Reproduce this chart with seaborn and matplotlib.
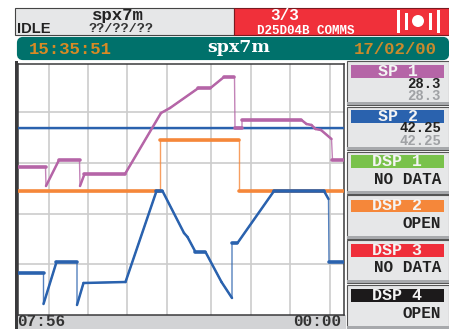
import matplotlib
matplotlib.use("Agg")
import matplotlib.pyplot as plt
from matplotlib.collections import LineCollection
from matplotlib.patches import Rectangle, FancyBboxPatch, Circle
import numpy as np
import pandas as pd
import seaborn as sns

# ---- data (position along the time axis, trace height) ----
sp1_x = [0,28,28.5,41.5,62,62.5,67,107.5,143.5,152.5,181,193,206.5,217,217.5,224.5,224.5,284,289,294,298,303.5,314,315,326]
sp1_y = [148,148,129,155,155,129,141,141,202,207,227,227,238,238,187,187,195,195,191,190,186,185,176,155,155]
sp2_x = [0,326]
sp2_y = [187,187]
dsp2_x = [0,143,143,222,222,326]
dsp2_y = [124,124,175,175,124,124]
trace_x = [0,26,26,39,59.5,59.5,66,108,139,145,166.5,170,178,188,204,214.5,214.5,220,256.5,306.5,311,311.5,326]
trace_y = [42,42,11,53,53,10,32,33,124,124,82,78,63,63,33,17,72,72,124,124,116,53,53]
grid_x = [31,71,110,150,194,234,273,312.5]
grid_y = [51,101.5,152,203]

channels = ["SP 1","SP 2","DSP 1","DSP 2","DSP 3","DSP 4"]
channel_colors = ["#B565A7","#2A62AE","#79C24B","#F5873A","#EF2E3A","#1C1A1B"]
channel_tops = [61,107,152,195,240,285]
channel_bottoms = [105,150,194,239,283,329]
head_tops = [65,110,155,200,244,289]
head_bottoms = [78,123,168,212,257,302]
channel_main = ["28.3","42.25","NO DATA","OPEN","NO DATA","OPEN"]
channel_sub = ["28.3","42.25","","","",""]

sns.set_style("white")
plt.rcParams["font.family"] = ["Liberation Mono", "DejaVu Sans Mono"]
W, H = 449, 329
fig = plt.figure(figsize=(W/100, H/100), dpi=100, facecolor="white")

# chrome layer in a 449x329 frame
bg = fig.add_axes([0,0,1,1], zorder=0)
bg.set_xlim(0,W); bg.set_ylim(H,0); bg.axis("off")
GREY = "#E6E7E8"
def box(x0,y0,x1,y1,fc,ec="none",lw=0,z=1):
    bg.add_patch(Rectangle((x0,y0),x1-x0,y1-y0,fc=fc,ec=ec,lw=lw,zorder=z))

box(15,8,234,35,GREY,ec="#444444",lw=0.8)
box(234,8,449,35,"#F0303A",ec="#7a1a20",lw=0.8)
bg.add_patch(FancyBboxPatch((19,39),428,19,boxstyle="round,pad=0,rounding_size=4",
                            fc="#00716B",ec="#00716B",lw=3,zorder=1))
box(16,315,346,329,"#D2D3D5")
box(15,61,17.5,329,"#3A3A3C",z=2)

bg.text(118,15.5,"spx7m",ha="center",va="center",fontsize=12.5,fontweight="bold",color="#222222")
bg.text(121,29,"??/??/??",ha="center",va="center",fontsize=9.7,fontweight="bold",color="#333333")
bg.text(16.5,29,"IDLE",ha="left",va="center",fontsize=10.5,fontweight="bold",
        family="Liberation Sans",color="#222222")
bg.text(285,15,"3/3",ha="center",va="center",fontsize=11.5,fontweight="bold",color="white")
bg.text(306,30.5,"D25D04B COMMS",ha="center",va="center",fontsize=9,fontweight="bold",color="white")
for x0,x1,y0,y1 in [(397,400,10,33),(437,440,10,33),(405,408,13,30),(429,432,13,30)]:
    box(x0,y0,x1,y1,"white",z=2)
bg.add_patch(Circle((418,21),6,fc="white",ec="none",zorder=2))

bg.text(29,49,"15:35:51",ha="left",va="center",fontsize=12.5,fontweight="bold",color="#D98A24")
bg.text(239,48,"spx7m",ha="center",va="center",fontsize=12.5,color="white",
        family="DejaVu Serif",fontweight="bold")
bg.text(437,49,"17/02/00",ha="right",va="center",fontsize=12.5,fontweight="bold",color="#C98A2C")
bg.text(17.5,322,"07:56",ha="left",va="center",fontsize=11.5,fontweight="bold",color="#333333")
bg.text(341,322,"00:00",ha="right",va="center",fontsize=11.5,fontweight="bold",color="#333333")

for i,name in enumerate(channels):
    t,b = channel_tops[i],channel_bottoms[i]
    box(347,t,449,b,GREY,ec="#555555",lw=0.8)
    box(347,b-3,449,b,"#A7A9AC",z=2)
    box(351,head_tops[i],444,head_bottoms[i],channel_colors[i],z=2)
    bg.text(397.5,(head_tops[i]+head_bottoms[i])/2,name,ha="center",va="center",
            fontsize=12,fontweight="bold",color="#F4F4F4",zorder=3)
    if channel_sub[i]:
        bg.text(441,head_bottoms[i]+5.5,channel_main[i],ha="right",va="center",fontsize=10,
                fontweight="bold",color="#222222",zorder=3)
        bg.text(441,head_bottoms[i]+18,channel_sub[i],ha="right",va="center",fontsize=10,
                fontweight="bold",color="#A0A2A5",zorder=3)
    else:
        bg.text(441,head_bottoms[i]+11,channel_main[i],ha="right",va="center",fontsize=11.5,
                fontweight="bold",color="#222222",zorder=3)

# main chart
ax = fig.add_axes([17.5/W,1-315/H,326.5/W,251.5/H],zorder=2)
ax.set_facecolor("white")
ax.set_xticks(grid_x); ax.set_yticks(grid_y)
ax.tick_params(length=0,labelbottom=False,labelleft=False)
ax.grid(True,color="#CCCCCC",lw=1.2)
ax.set_axisbelow(True)
for s in ax.spines.values():
    s.set_color("#3A3A3C"); s.set_linewidth(1.1)

def trace(xs,ys,color,z,flat=2.6,slope=1.8,thin=1.0):
    df = pd.DataFrame({"x":xs,"y":ys})
    sns.lineplot(data=df,x="x",y="y",estimator=None,sort=False,color=color,lw=thin,
                 ax=ax,zorder=z,alpha=0.8,legend=False)
    segs,lws=[],[]
    for (a,b,c,d) in zip(xs[:-1],ys[:-1],xs[1:],ys[1:]):
        if abs(c-a) < 1.2:
            continue
        segs.append([(a,b),(c,d)])
        lws.append(flat if b==d else slope)
    ax.add_collection(LineCollection(segs,colors=color,linewidths=lws,zorder=z,capstyle="round"))

trace(sp2_x,sp2_y,channel_colors[1],3,flat=1.7)
trace(dsp2_x,dsp2_y,channel_colors[3],4)
trace(sp1_x,sp1_y,channel_colors[0],5)
trace(trace_x,trace_y,channel_colors[1],6)
ax.set(xlabel="",ylabel="")
ax.set_xlim(0,326.5); ax.set_ylim(0,251.5)

fig.savefig("out.png",dpi=100)
